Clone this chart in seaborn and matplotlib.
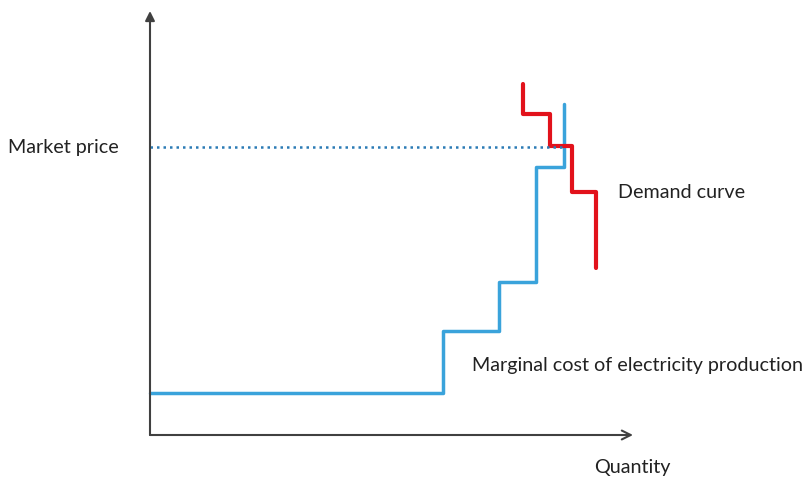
import matplotlib
matplotlib.use("Agg")
import matplotlib.pyplot as plt
import seaborn as sns
import pandas as pd

# supply (merit order) steps: quantity where each block starts, and its marginal cost
supply_q = [0, 293, 349, 386, 414]
supply_p = [42, 104, 153, 268, 331]

# demand steps (drawn top-down)
demand_q = [373, 400, 422, 446, 446]
demand_p = [351, 321, 289, 243, 167]

market_price = 288
clearing_q = 415

sns.set_theme(style="white")
plt.rcParams['font.family'] = ['Lato', 'DejaVu Sans']

supply = pd.DataFrame({'q': supply_q, 'p': supply_p})
demand = pd.DataFrame({'q': demand_q, 'p': demand_p})

fig = plt.figure(figsize=(8.09, 4.78), dpi=100)
ax = fig.add_axes([0, 0, 1, 1])

sns.lineplot(data=supply, x='q', y='p', ax=ax, color='#3AA3DB', lw=2.5,
             estimator=None, sort=False, drawstyle='steps-post')
sns.lineplot(data=demand, x='q', y='p', ax=ax, color='#E2121B', lw=3,
             estimator=None, sort=False, drawstyle='steps-pre')

# market price level
ax.plot([0, clearing_q], [market_price, market_price], color='#2B7BB5',
        lw=1.8, linestyle=(0, (1, 1.6)))

# axes arrows
ax.annotate('', xy=(0, 424), xytext=(0, 0),
            arrowprops=dict(arrowstyle='-|>', color='#404040', lw=1.5,
                            mutation_scale=14, shrinkA=0, shrinkB=0))
ax.annotate('', xy=(483, 0), xytext=(0, 0),
            arrowprops=dict(arrowstyle='->', color='#404040', lw=1.5,
                            mutation_scale=16, shrinkA=0, shrinkB=0))

txt = dict(fontsize=14.2, color='#222222', va='center', ha='left')
ax.text(-142, market_price, 'Market price', **txt)
ax.text(468, 243, 'Demand curve', **txt)
ax.text(322, 70, 'Marginal cost of electricity production', **txt)
ax.text(444, -32, 'Quantity', **txt)

ax.set_xlim(-150, 659)
ax.set_ylim(-43, 435)
ax.set_axis_off()

fig.savefig('out.png', dpi=100)
